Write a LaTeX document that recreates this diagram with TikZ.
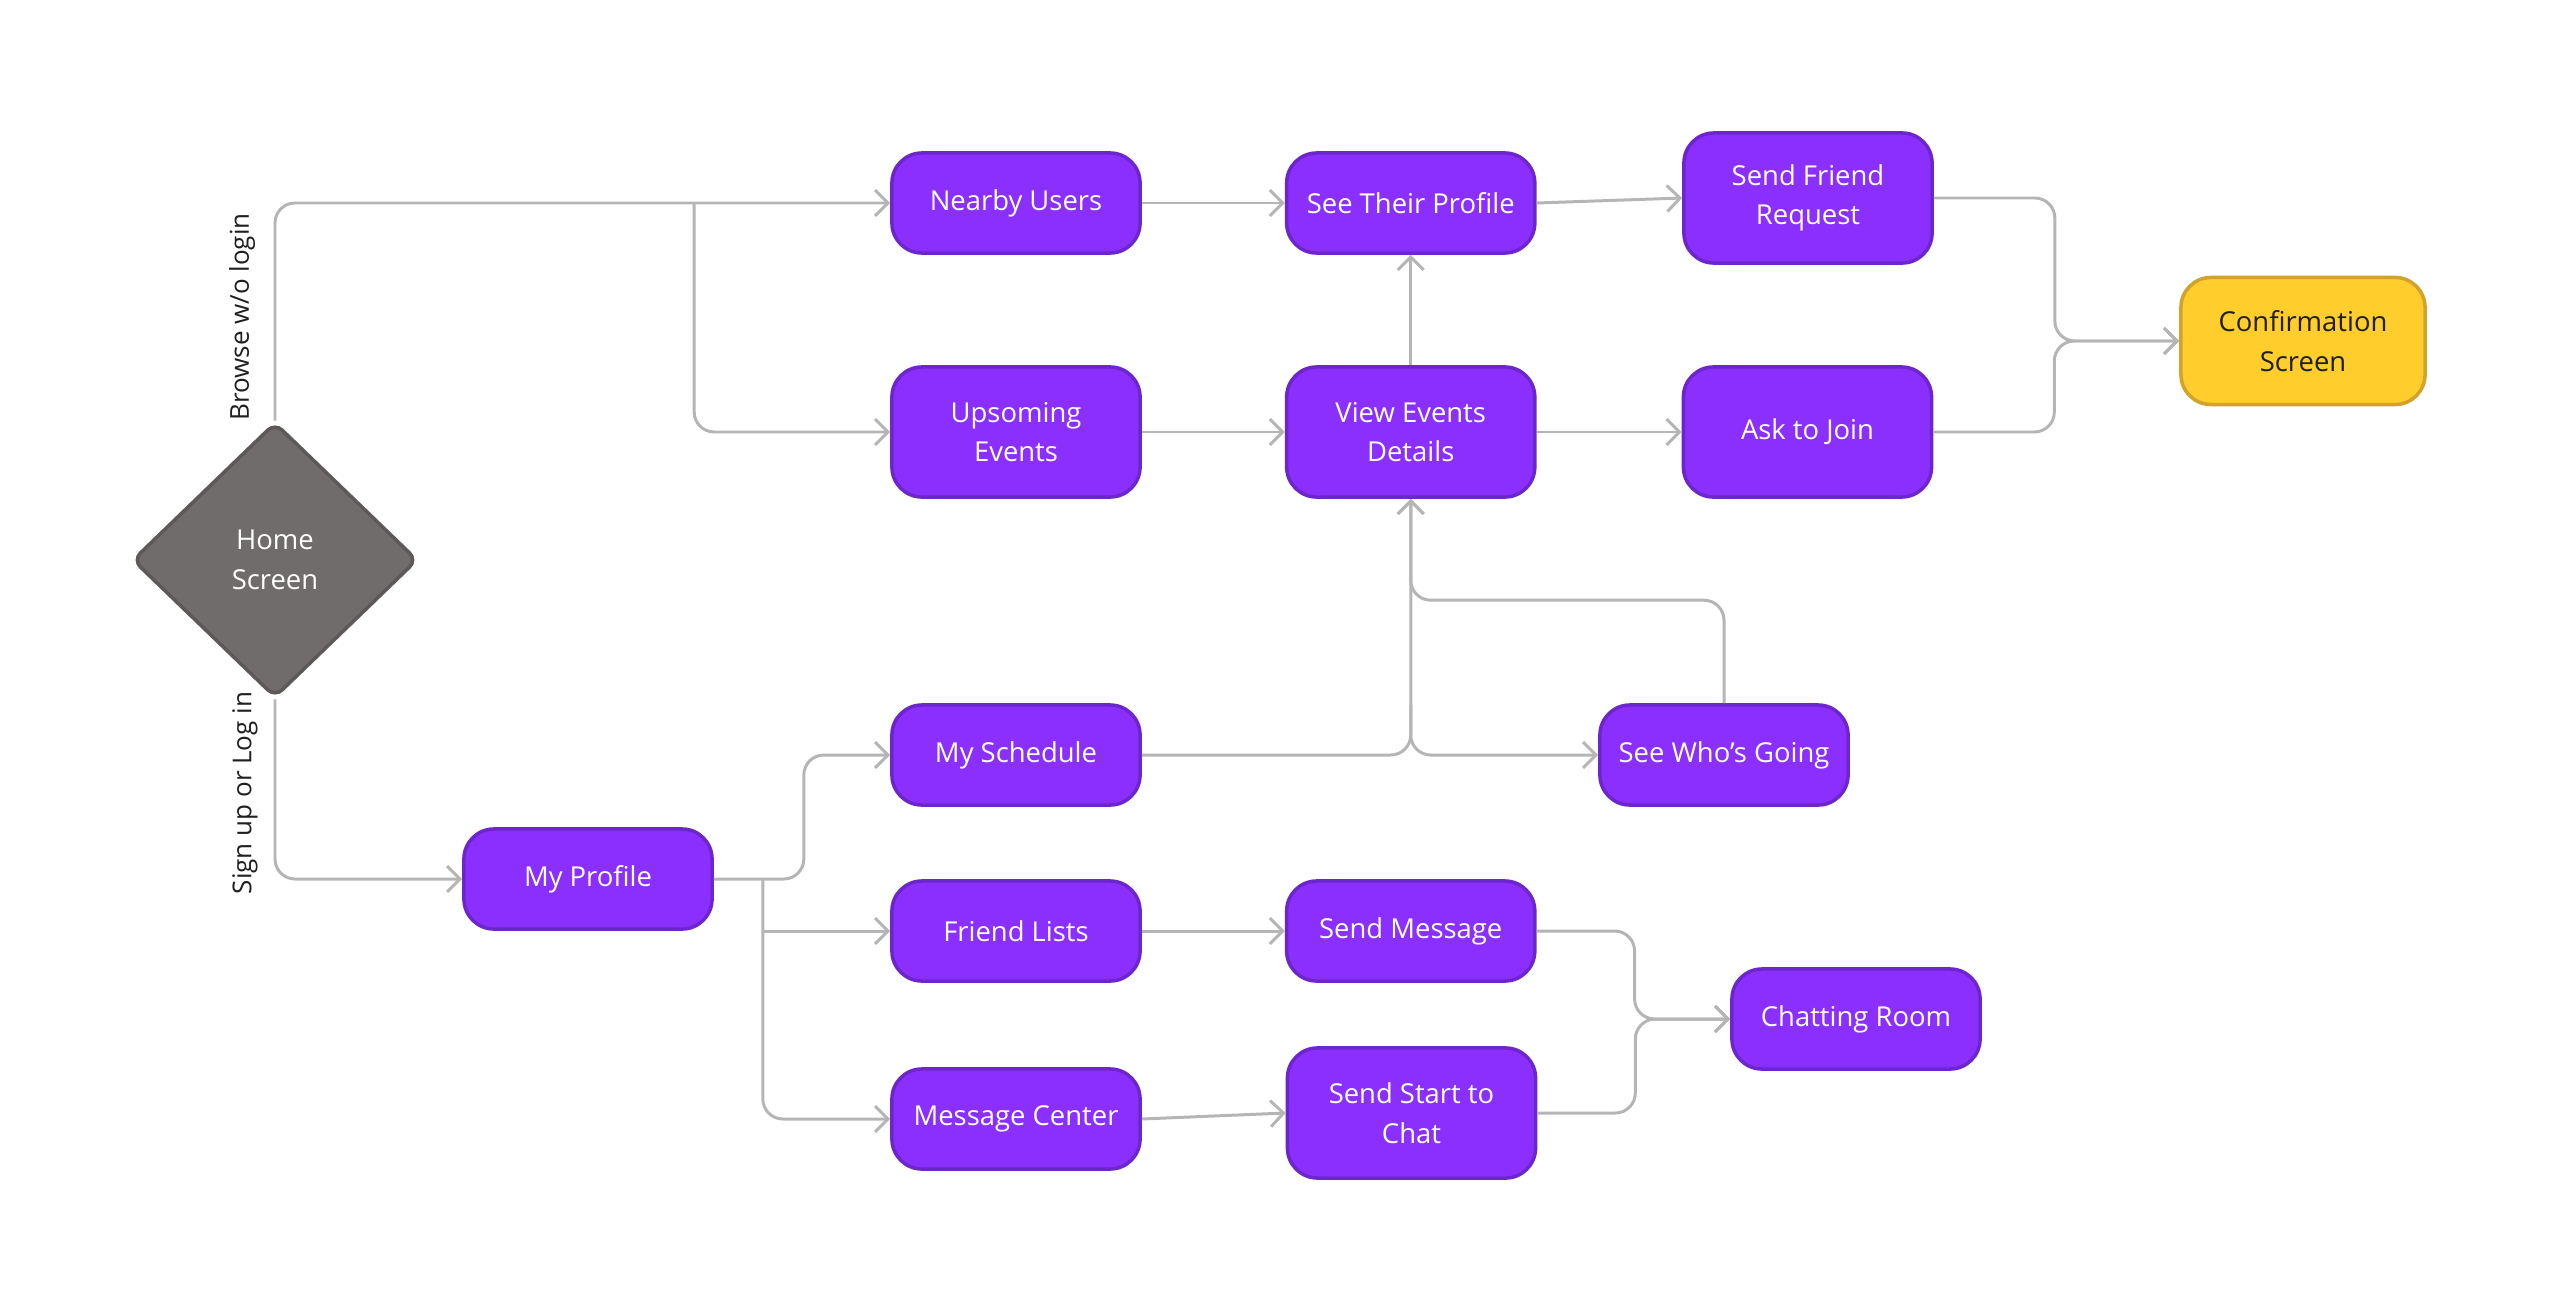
\documentclass[tikz,border=0pt]{standalone}
\usepackage{fontspec}
\setmainfont{Open Sans}
\usetikzlibrary{arrows.meta,positioning,shapes.geometric}
\definecolor{scrfill}{HTML}{8A2FFE}
\definecolor{scrline}{HTML}{6D26CC}
\definecolor{okfill}{HTML}{FFCD2C}
\definecolor{okline}{HTML}{D2A22A}
\definecolor{homefill}{HTML}{716C6C}
\definecolor{homeline}{HTML}{5D5959}
\definecolor{wiregray}{HTML}{B5B5B5}
\definecolor{ink}{HTML}{1F1F1F}
\tikzset{
  screenbox/.style={draw=scrline, line width=1pt, fill=scrfill, rounded corners=3mm,
                    minimum width=2.48cm, minimum height=1cm, inner sep=2pt, align=center,
                    text=white, font=\fontsize{7.8}{11.3}\selectfont},
  tallbox/.style={screenbox, minimum height=1.3cm},
  okbox/.style={screenbox, draw=okline, fill=okfill, text=ink,
                minimum width=2.44cm, minimum height=1.27cm},
  homebox/.style={diamond, draw=homeline, line width=1pt, fill=homefill, rounded corners=1mm,
                  minimum width=2.85cm, minimum height=2.75cm, inner sep=0pt, align=center,
                  text=white, font=\fontsize{7.8}{11.3}\selectfont},
  arr/.style={-{Straight Barb[length=1.3mm, width=2.6mm]}, line width=0.85pt,
              color=wiregray, rounded corners=2mm},
  sidelbl/.style={rotate=90, text=ink, inner sep=0pt, font=\fontsize{7.4}{9}\selectfont}}

\begin{document}
\begin{tikzpicture}[x=0.01cm, y=-0.01cm]
    \useasboundingbox (0,0) rectangle (2560,1312);
    % entry point
    \node[homebox] (home) at (275,560) {Home\\Screen};
    \node[sidelbl] (browselbl) at (242,317) {Browse w/o login};
    \node[sidelbl] (signlbl) at (245,793) {Sign up or Log in};
    % guest branch
    \node[screenbox] (nearby) at (1016,203) {Nearby Users};
    \node[screenbox, right=1.43cm of nearby] (theirprof) {See Their Profile};
    \node[tallbox] (sendfr) at (1808,198) {Send Friend\\Request};
    \node[tallbox] (upcoming) at (1016,432) {Upsoming\\Events};
    \node[tallbox, right=1.43cm of upcoming] (viewev) {View Events\\Details};
    \node[tallbox, right=1.45cm of viewev] (askjoin) {Ask to Join};
    \node[okbox] (confirm) at (2303,341) {Confirmation\\Screen};
    % member branch
    \node[screenbox] (myprof) at (588,879) {My Profile};
    \node[screenbox] (sched) at (1016,755) {My Schedule};
    \node[screenbox] (going) at (1724,755) {See Who’s Going};
    \node[screenbox] (friends) at (1016,931) {Friend Lists};
    \node[screenbox, right=1.43cm of friends] (sendmsg) {Send Message};
    \node[screenbox] (msgc) at (1016,1119) {Message Center};
    \node[tallbox] (startchat) at (1411.5,1113) {Send Start to\\Chat};
    \node[screenbox] (chat) at (1856,1019) {Chatting Room};
    % helper points
    \path (nearby.west) ++(-196,0) coordinate (brsplit);
    \path (myprof.east) ++(49,0) coordinate (mpsplit);
    \coordinate (evjoin) at (viewev.south |- sched.east);
    \path (evjoin) ++(0,-50) coordinate (evup);
    \path (going.north) ++(0,-103) coordinate (gobend);
    % connectors
    \draw[arr] (home.north) |- (nearby.west);
    \draw[arr] (brsplit) |- (upcoming.west);
    \draw[arr] (nearby) -- (theirprof);
    \draw[arr] (theirprof.east) -- (sendfr.west);
    \draw[arr] (upcoming) -- (viewev);
    \draw[arr] (viewev) -- (askjoin);
    \draw[arr] (viewev.north) -- (theirprof.south);
    \draw[arr] (sendfr.east) -- ++(121,0) |- (confirm.west);
    \draw[arr] (askjoin.east) -- ++(121,0) |- (confirm.west);
    \draw[arr] (home.south) |- (myprof.west);
    \draw[arr] (myprof.east) -- ++(90,0) |- (sched.west);
    \draw[arr] (mpsplit) |- (msgc.west);
    \draw[arr] (mpsplit |- friends.west) -- (friends.west);
    \draw[arr] (sched.east) -| (viewev.south);
    \draw[arr] (evup) -- (evjoin) -- (going.west);
    \draw[arr] (going.north) -- (gobend) -| (viewev.south);
    \draw[arr] (friends) -- (sendmsg);
    \draw[arr] (msgc.east) -- (startchat.west);
    \draw[arr] (sendmsg.east) -- ++(98,0) |- (chat.west);
    \draw[arr] (startchat.east) -- ++(98,0) |- (chat.west);
  \end{tikzpicture}
\end{document}
